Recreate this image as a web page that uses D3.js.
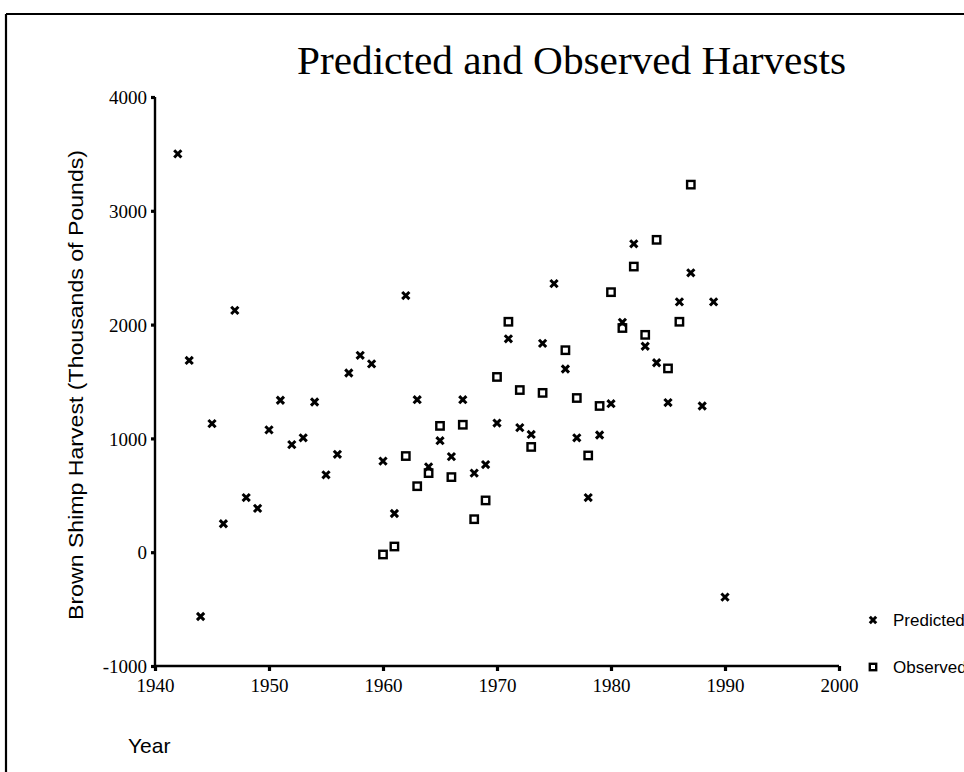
<!DOCTYPE html>
<html>
<head>
<meta charset="utf-8">
<script src="https://cdn.jsdelivr.net/npm/d3@7"></script>
<style>
  html, body { margin: 0; padding: 0; background: #fff; overflow: hidden; }
  svg { display: block; }
</style>
</head>
<body>
<script>
// ---- data ----
const predYears = [1942,1943,1944,1945,1946,1947,1948,1949,1950,1951,1952,1953,1954,1955,1956,1957,1958,1959,1960,1961,1962,1963,1964,1965,1966,1967,1968,1969,1970,1971,1972,1973,1974,1975,1976,1977,1978,1979,1980,1981,1982,1983,1984,1985,1986,1987,1988,1989,1990];
const predValues = [3500,1685,-565,1130,250,2125,480,385,1075,1335,945,1005,1320,680,860,1575,1730,1655,800,340,2255,1340,750,980,840,1340,695,770,1135,1875,1095,1035,1835,2360,1610,1005,480,1030,1305,2020,2710,1810,1665,1315,2200,2455,1285,2200,-395];
const obsYears = [1960,1961,1962,1963,1964,1965,1966,1967,1968,1969,1970,1971,1972,1973,1974,1976,1977,1978,1979,1980,1981,1982,1983,1984,1985,1986,1987];
const obsValues = [-20,50,845,580,695,1110,660,1120,290,455,1540,2025,1425,925,1400,1775,1355,850,1285,2285,1970,2510,1910,2745,1615,2025,3230];
const xTicks = [1940,1950,1960,1970,1980,1990,2000];
const yTicks = [-1000,0,1000,2000,3000,4000];
const titleText = "Predicted and Observed Harvests";
const yTitle = "Brown Shimp Harvest (Thousands of Pounds)";
const xTitle = "Year";
const legendLabels = ["Predicted", "Observed"];

// ---- drawing ----
const W = 964, H = 772;
const svg = d3.select("body").append("svg").attr("width", W).attr("height", H);

// frame
svg.append("line").attr("x1", 6).attr("x2", W).attr("y1", 14).attr("y2", 14)
  .attr("stroke", "#000").attr("stroke-width", 2.2);
svg.append("line").attr("x1", 6).attr("x2", 6).attr("y1", 14).attr("y2", H)
  .attr("stroke", "#000").attr("stroke-width", 2.2);

const x = d3.scaleLinear().domain([1940, 2000]).range([155, 839]);
const y = d3.scaleLinear().domain([-1000, 4000]).range([666, 97]);

const serif = "'Liberation Serif', 'Times New Roman', serif";
const sans = "'Liberation Sans', Arial, sans-serif";

// axes
const xAxis = d3.axisBottom(x).tickValues(xTicks).tickFormat(d => String(d)).tickSize(5).tickPadding(5);
const yAxis = d3.axisLeft(y).tickValues(yTicks).tickFormat(d => String(d)).tickSize(4).tickPadding(4);

const gx = svg.append("g").attr("transform", `translate(0,${y(-1000)})`).call(xAxis);
const gy = svg.append("g").attr("transform", `translate(${x(1940)},0)`).call(yAxis);

[gx, gy].forEach(g => {
  g.attr("font-size", null).attr("font-family", null);
  g.select(".domain").attr("stroke", "#000").attr("stroke-width", 2.4);
  g.selectAll(".tick line").attr("stroke", "#000").attr("stroke-width", 3.2);
  g.selectAll(".tick text").attr("fill", "#000")
    .style("font-family", serif).style("font-size", "19px");
});
gx.select(".domain").attr("d", `M${x(1940)},0H${x(2000)}`);
gy.select(".domain").attr("d", `M0,${y(4000)}V${y(-1000)}`);
gx.selectAll(".tick text").attr("dy", "0.85em");
gy.selectAll(".tick text").attr("dy", "0.35em");

// markers
function xMark(sel, s) {
  sel.append("path")
    .attr("d", `M${-s},${-s}L${s},${s}M${-s},${s}L${s},${-s}`)
    .attr("stroke", "#000").attr("stroke-width", 3).attr("fill", "none");
}
function sqMark(sel, s) {
  sel.append("rect").attr("x", -s).attr("y", -s).attr("width", 2 * s).attr("height", 2 * s)
    .attr("stroke", "#000").attr("stroke-width", 2.4).attr("fill", "#fff");
}

const predData = predYears.map((yr, i) => ({ yr, v: predValues[i] }));
const obsData = obsYears.map((yr, i) => ({ yr, v: obsValues[i] }));

svg.append("g").selectAll("g").data(obsData).join("g")
  .attr("transform", d => `translate(${x(d.yr)},${y(d.v)})`)
  .each(function () { sqMark(d3.select(this), 3.7); });

svg.append("g").selectAll("g").data(predData).join("g")
  .attr("transform", d => `translate(${x(d.yr)},${y(d.v)})`)
  .each(function () { xMark(d3.select(this), 3.6); });

// title
svg.append("text").attr("x", 297).attr("y", 74)
  .attr("textLength", 549).attr("lengthAdjust", "spacingAndGlyphs")
  .style("font-family", serif).style("font-size", "41px").attr("fill", "#000")
  .text(titleText);

// y title
svg.append("text")
  .attr("transform", `translate(83,385) rotate(-90)`)
  .attr("text-anchor", "middle")
  .attr("textLength", 470).attr("lengthAdjust", "spacingAndGlyphs")
  .style("font-family", sans).style("font-size", "21px").attr("fill", "#000")
  .text(yTitle);

// x title
svg.append("text").attr("x", 128).attr("y", 753)
  .style("font-family", sans).style("font-size", "21px").attr("fill", "#000")
  .text(xTitle);

// legend
const leg = svg.append("g");
const legY = [620, 667];
legendLabels.forEach((lab, i) => {
  const g = leg.append("g").attr("transform", `translate(873,${legY[i]})`);
  if (i === 0) xMark(g, 3.2); else sqMark(g, 3.2);
  g.append("text").attr("x", 20).attr("y", 6)
    .style("font-family", sans).style("font-size", "17px").attr("fill", "#000")
    .text(lab);
});
</script>
</body>
</html>
